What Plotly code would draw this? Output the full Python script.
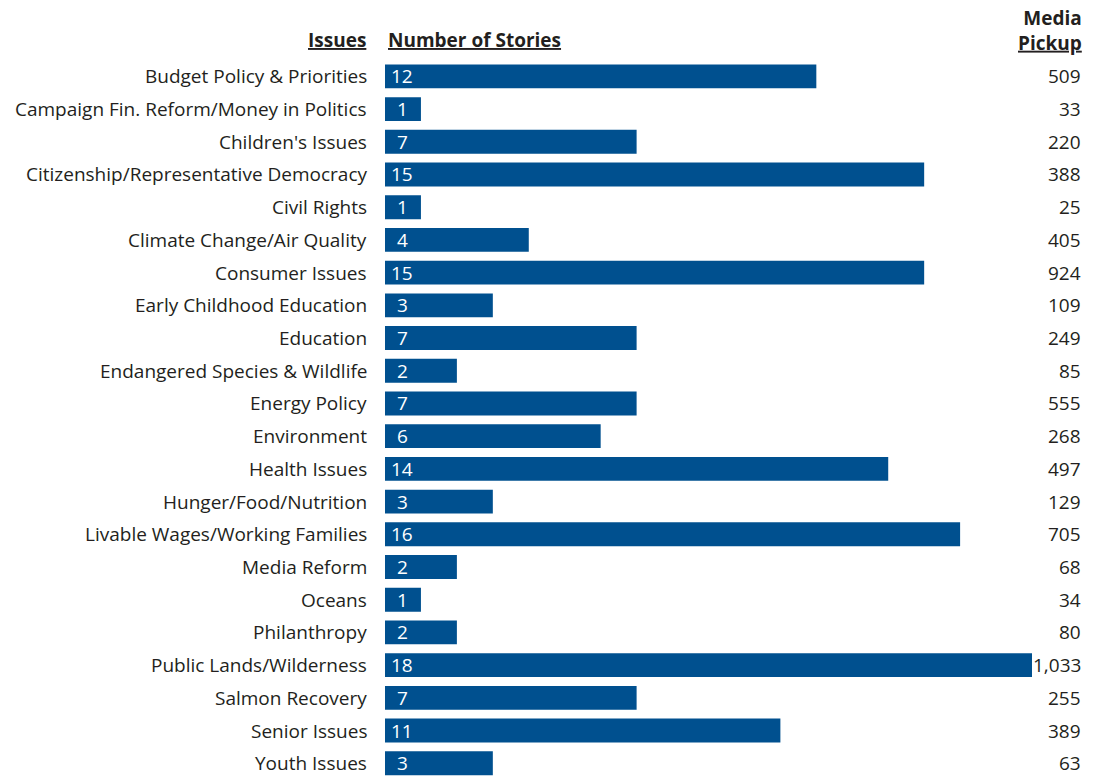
import plotly.graph_objects as go

issues = ["Budget Policy & Priorities", "Campaign Fin. Reform/Money in Politics", "Children's Issues",
          "Citizenship/Representative Democracy", "Civil Rights", "Climate Change/Air Quality",
          "Consumer Issues", "Early Childhood Education", "Education", "Endangered Species & Wildlife",
          "Energy Policy", "Environment", "Health Issues", "Hunger/Food/Nutrition",
          "Livable Wages/Working Families", "Media Reform", "Oceans", "Philanthropy",
          "Public Lands/Wilderness", "Salmon Recovery", "Senior Issues", "Youth Issues"]
stories = [12, 1, 7, 15, 1, 4, 15, 3, 7, 2, 7, 6, 14, 3, 16, 2, 1, 2, 18, 7, 11, 3]
pickup = ["509", "33", "220", "388", "25", "405", "924", "109", "249", "85", "555", "268",
          "497", "129", "705", "68", "34", "80", "1,033", "255", "389", "63"]

BAR = "#00508f"
TXT = "#231f20"
FONT = "Open Sans"
FS = 19
pos = list(range(len(issues)))

L, T, W, H = 377, 52, 1077, 768
PW = 647
PH = H - T

def px_x(px):
    return (px - 8 - L) / PW

def px_y(py):
    return 1 - (py - 8 - T) / PH

fig = go.Figure(go.Bar(x=stories, y=pos, orientation="h", width=0.73, cliponaxis=False,
                       marker=dict(color=BAR, line=dict(width=0)), hoverinfo="skip"))

RX = 1083
ann = []
for i, (lab, s, p) in enumerate(zip(issues, stories, pickup)):
    ann.append(dict(x=px_x(369), y=i, xref="paper", yref="y", text=lab, showarrow=False,
                    xanchor="right", yanchor="middle", font=dict(size=FS, color=TXT, family=FONT)))
    ann.append(dict(x=px_x(402), y=i, xref="paper", yref="y", text=str(s), showarrow=False,
                    xanchor="center", yanchor="middle", font=dict(size=FS, color="white", family=FONT)))
    ann.append(dict(x=px_x(RX), y=i, xref="paper", yref="y", text=p, showarrow=False,
                    xanchor="right", yanchor="middle", font=dict(size=FS, color=TXT, family=FONT)))

ann.append(dict(x=px_x(368), y=px_y(40), xref="paper", yref="paper", text="<b><u>Issues</u></b>",
                showarrow=False, xanchor="right", yanchor="middle", font=dict(size=FS, color=TXT, family=FONT)))
ann.append(dict(x=px_x(386), y=px_y(40), xref="paper", yref="paper", text="<b><u>Number of Stories</u></b>",
                showarrow=False, xanchor="left", yanchor="middle", font=dict(size=FS, color=TXT, family=FONT)))
ann.append(dict(x=px_x(RX), y=px_y(30), xref="paper", yref="paper",
                text="<b>Media</b><br><b><u>Pickup</u></b>", align="right",
                showarrow=False, xanchor="right", yanchor="middle", borderpad=0,
                font=dict(size=FS, color=TXT, family=FONT)))

unit = 32.71
fig.update_layout(
    width=W, height=H,
    margin=dict(l=L, r=W - L - PW, t=T, b=0),
    plot_bgcolor="white", paper_bgcolor="white",
    showlegend=False,
    xaxis=dict(range=[0, 18], visible=False, fixedrange=True),
    yaxis=dict(range=[-0.5 + PH / unit, -0.5], visible=False, fixedrange=True),
    annotations=ann,
)

fig.write_html("out.html")
